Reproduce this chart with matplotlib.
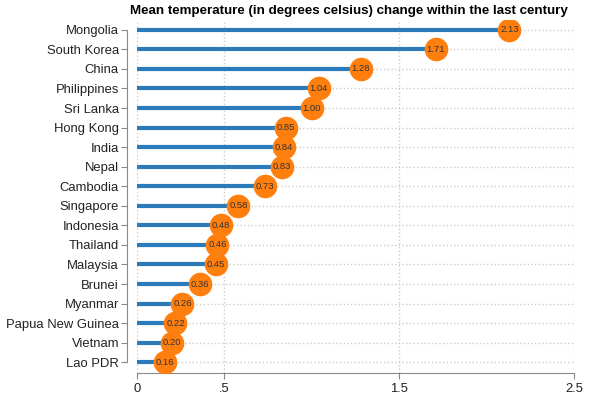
import numpy as np
import matplotlib.pyplot as plt

plt.rcParams['font.family'] = ['Liberation Sans', 'DejaVu Sans']

countries = ['Mongolia', 'South Korea', 'China', 'Philippines', 'Sri Lanka',
             'Hong Kong', 'India', 'Nepal', 'Cambodia', 'Singapore', 'Indonesia',
             'Thailand', 'Malaysia', 'Brunei', 'Myanmar', 'Papua New Guinea',
             'Vietnam', 'Lao PDR']
temp_change = [2.13, 1.71, 1.28, 1.04, 1.00, 0.85, 0.84, 0.83, 0.73, 0.58,
               0.48, 0.46, 0.45, 0.36, 0.26, 0.22, 0.20, 0.16]
xticks = [0, 0.5, 1.5, 2.5]
xtick_labels = ['0', '.5', '1.5', '2.5']

blue = '#2b7bba'
orange = '#ff7f0e'

fig = plt.figure(figsize=(5.9, 4), dpi=100)
ax = fig.add_axes([137/590, 1 - 373/400, (574 - 137)/590, (373 - 20)/400])

y = np.arange(len(countries))
ax.hlines(y, 0, temp_change, color=blue, linewidth=3, zorder=3)
ax.plot(temp_change, y, 'o', color=orange, markersize=16, zorder=4)
for xi, yi in zip(temp_change, y):
    ax.text(xi, yi, '%.2f' % xi, ha='center', va='center', fontsize=6.8,
            color='#333333', zorder=5)

ax.set_yticks(y)
ax.set_yticklabels(countries)
ax.set_ylim(len(countries) - 0.45, -0.5)
ax.set_xlim(0, 2.5)
ax.set_xticks(xticks)
ax.set_xticklabels(xtick_labels)

ax.grid(True, linestyle=':', color='#cccccc', linewidth=1, zorder=0)
ax.set_axisbelow(True)
for s in ['top', 'right']:
    ax.spines[s].set_visible(False)
ax.spines['left'].set_position(('outward', 7))
ax.spines['left'].set_bounds(0, len(countries) - 1)
ax.spines['left'].set_color('#888888')
ax.spines['bottom'].set_color('#888888')
ax.tick_params(colors='#888888', labelcolor='#222222', length=4)
ax.tick_params(axis='y', pad=2, labelsize=9.4)
ax.tick_params(axis='x', labelsize=9.4)

ax.set_title('Mean temperature (in degrees celsius) change within the last century',
             fontsize=9.65, fontweight='bold', pad=4, x=0.484)

fig.savefig('out.png', dpi=100)
